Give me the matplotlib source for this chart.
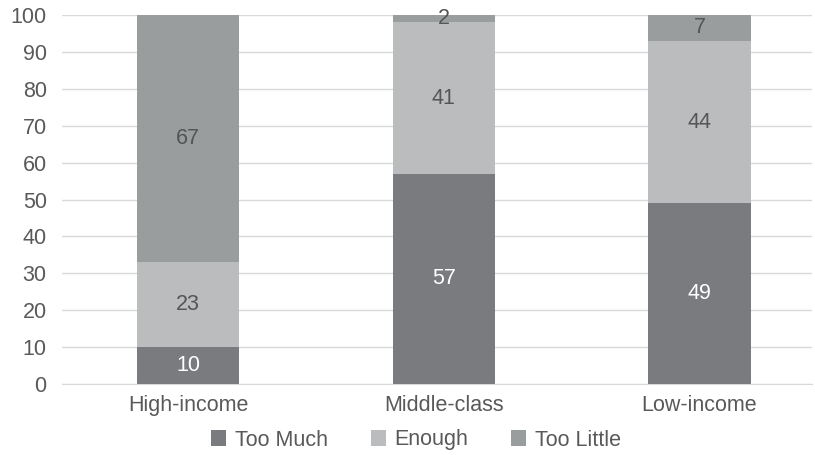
import matplotlib
matplotlib.use("Agg")
import matplotlib.pyplot as plt
from matplotlib.patches import Patch

plt.rcParams['font.family'] = ['Liberation Sans', 'DejaVu Sans']

categories = ["High-income", "Middle-class", "Low-income"]
too_much = [10, 57, 49]
enough = [23, 41, 44]
too_little = [67, 2, 7]
series_names = ["Too Much", "Enough", "Too Little"]
colors = ["#7a7b7f", "#bbbcbe", "#9a9d9e"]
label_colors = ["white", "#555555", "#555555"]
yticks = [0, 10, 20, 30, 40, 50, 60, 70, 80, 90, 100]

fs = 15.5
fig = plt.figure(figsize=(8.15, 4.55), dpi=100)
ax = fig.add_axes([62/815, 1-384/455, (812-62)/815, (384-15)/455])

x = list(range(len(categories)))
bottom = [0]*len(categories)
for vals, col, lc in zip([too_much, enough, too_little], colors, label_colors):
    ax.bar(x, vals, width=0.4, bottom=bottom, color=col, zorder=3)
    for xi, v, b in zip(x, vals, bottom):
        ax.text(xi, b + v/2, str(v), ha='center', va='center', color=lc, fontsize=fs, zorder=4)
    bottom = [b + v for b, v in zip(bottom, vals)]

ax.set_xlim(-0.493, 2.44)
ax.set_ylim(0, 100)
ax.set_yticks(yticks)
ax.set_xticks(x)
ax.set_xticklabels(categories)
ax.grid(axis='y', color='#d9d9d9', linewidth=1, zorder=0)
for s in ['top', 'right', 'left']:
    ax.spines[s].set_visible(False)
ax.spines['bottom'].set_color('#d9d9d9')
ax.tick_params(axis='both', length=0, labelsize=fs, colors='#595959')
ax.tick_params(axis='x', pad=8)
ax.tick_params(axis='y', pad=11)

handles = [Patch(facecolor=c, label=n) for c, n in zip(colors, series_names)]
leg = fig.legend(handles=handles, loc='center', bbox_to_anchor=(416/815, 1-440/455), ncol=3,
                 frameon=False, fontsize=fs, handlelength=0.7, handleheight=0.7,
                 columnspacing=2.0, handletextpad=0.4)
for t in leg.get_texts():
    t.set_color('#595959')

fig.savefig("out.png", dpi=100)
